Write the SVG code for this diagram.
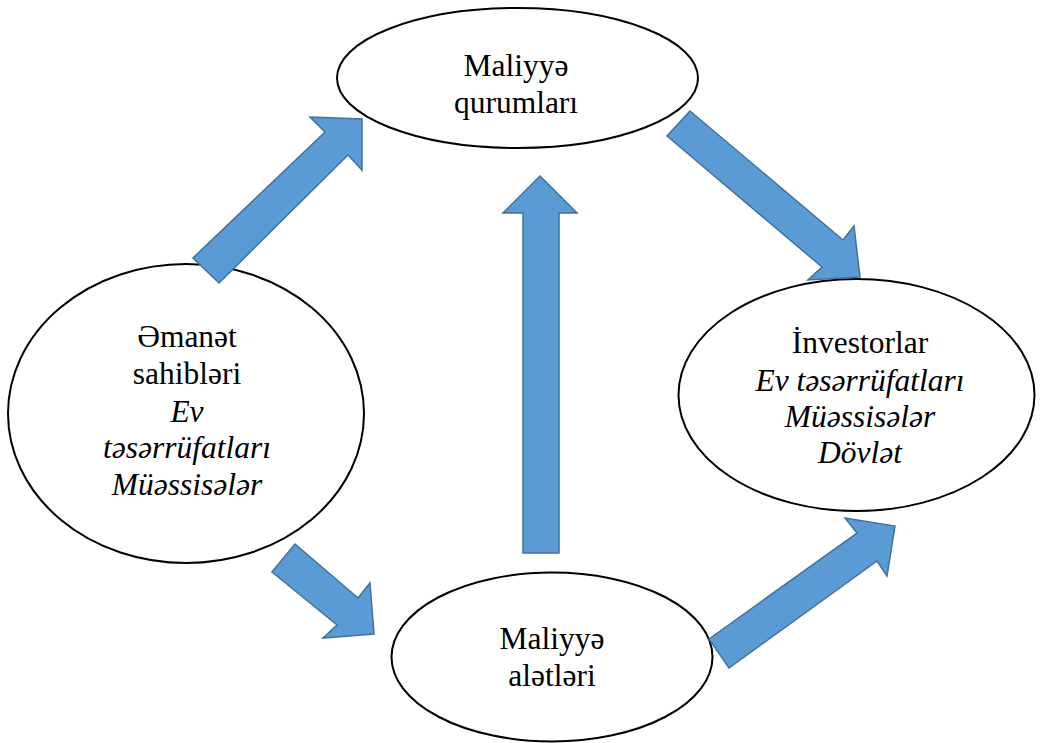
<svg xmlns="http://www.w3.org/2000/svg" width="1040" height="743" viewBox="0 0 1040 743">
  <style>
    .node { fill: #ffffff; stroke: #000000; stroke-width: 2; }
    .lbl { font-family: 'Liberation Serif', 'Times New Roman', serif; font-size: 31.5px; fill: #000000; text-anchor: middle; }
    .it { font-style: italic; }
    .flow { fill: #5B9BD5; stroke: #41719C; stroke-width: 1.5; stroke-linejoin: miter; }
  </style>

  <rect x="0" y="0" width="1040" height="743" fill="#ffffff"/>

  <!-- Financial institutions -->
  <g id="maliyye-qurumlari">
    <ellipse class="node" cx="517.5" cy="78" rx="180.5" ry="70"/>
    <text class="lbl" x="516" y="76">Maliyyə</text>
    <text class="lbl" x="516" y="113">qurumları</text>
  </g>

  <!-- Savers -->
  <g id="emanet-sahibleri">
    <ellipse class="node" cx="186" cy="413.5" rx="178" ry="149.5"/>
    <text class="lbl" x="187" y="347">Əmanət</text>
    <text class="lbl" x="187" y="384">sahibləri</text>
    <text class="lbl it" x="187" y="422">Ev</text>
    <text class="lbl it" x="187" y="458">təsərrüfatları</text>
    <text class="lbl it" x="187" y="495">Müəssisələr</text>
  </g>

  <!-- Investors -->
  <g id="investorlar">
    <ellipse class="node" cx="856.5" cy="395" rx="178" ry="116"/>
    <text class="lbl" x="860" y="353">İnvestorlar</text>
    <text class="lbl it" x="860" y="391">Ev təsərrüfatları</text>
    <text class="lbl it" x="860" y="427">Müəssisələr</text>
    <text class="lbl it" x="860" y="463">Dövlət</text>
  </g>

  <!-- Financial instruments -->
  <g id="maliyye-aletleri">
    <ellipse class="node" cx="552" cy="657" rx="160.5" ry="84.5"/>
    <text class="lbl" x="552" y="649">Maliyyə</text>
    <text class="lbl" x="552" y="686">alətləri</text>
  </g>

  <!-- Block-arrow connectors -->
  <g id="connectors">
    <polygon class="flow" points="193,258 325,132 310,117 362,119 362,170 348,155 219,283"/>
    <polygon class="flow" points="690,111 843,240 854,226 860,277 808,280 822,267 667,136"/>
    <polygon class="flow" points="540,176 577,213 559,213 559,553 523,553 523,213 503,213"/>
    <polygon class="flow" points="295,544 358,598 370,583 374,634 323,638 337,625 272,572"/>
    <polygon class="flow" points="709,639 857,533 845,518 895,526 887,576 877,561 729,668"/>
  </g>
</svg>
